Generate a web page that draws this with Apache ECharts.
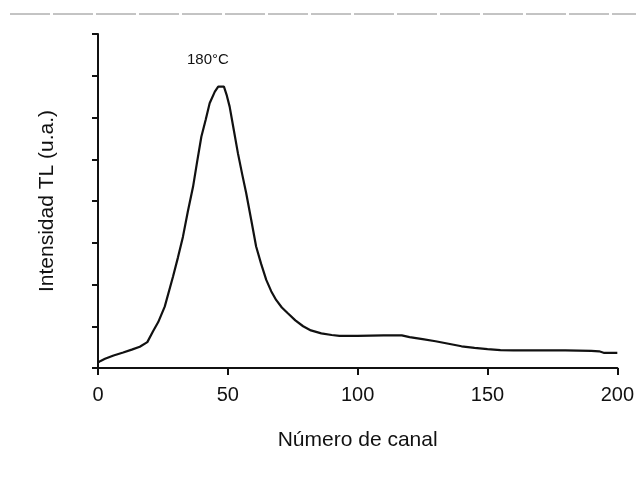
<!DOCTYPE html>
<html>
<head>
<meta charset="utf-8">
<script src="https://cdn.jsdelivr.net/npm/echarts@6/dist/echarts.min.js"></script>
<style>
html,body{margin:0;padding:0;background:#fff;}
#chart{width:637px;height:484px;}
</style>
</head>
<body>
<div id="chart"></div>
<script>
var xTicks = [0, 50, 100, 150, 200];
var channels = [0, 1, 2.7, 6, 9.7, 13, 16.1, 19, 21.2, 23.2, 25.7, 28.9, 30.8, 32.7, 34.6, 36.6, 38.2, 39.8, 41.5, 43, 45, 46.3, 48.5, 49.5, 50.7, 52.3, 53.9, 55.5, 57.1, 59, 60.9, 62.8, 64.8, 66.7, 68.6, 70.8, 73.1, 76, 79, 82, 86, 90, 93, 100, 110, 117, 120, 125, 130, 135, 140, 145, 150, 155, 160, 170, 180, 190, 193, 195, 200];
var intensity = [0.13, 0.17, 0.22, 0.3, 0.37, 0.44, 0.51, 0.62, 0.88, 1.1, 1.47, 2.19, 2.65, 3.14, 3.75, 4.34, 4.95, 5.54, 5.95, 6.34, 6.62, 6.74, 6.74, 6.55, 6.26, 5.7, 5.14, 4.65, 4.18, 3.55, 2.91, 2.5, 2.11, 1.84, 1.63, 1.45, 1.31, 1.14, 1.0, 0.9, 0.83, 0.79, 0.77, 0.77, 0.78, 0.78, 0.74, 0.69, 0.64, 0.58, 0.52, 0.48, 0.45, 0.43, 0.42, 0.42, 0.42, 0.41, 0.40, 0.36, 0.36];
var peakLabel = '180°C';
var xName = 'Número de canal';
var yName = 'Intensidad TL (u.a.)';

var data = channels.map(function (c, i) { return [c, intensity[i]]; });
var font = '"Liberation Sans", Arial, sans-serif';
var chart = echarts.init(document.getElementById('chart'), null, {renderer: 'canvas'});
chart.setOption({
  backgroundColor: '#fff',
  animation: false,
  grid: {left: 98, right: 17, top: 34, bottom: 116},
  xAxis: {
    type: 'value', min: 0, max: 200, interval: 50,
    name: xName, nameLocation: 'middle', nameGap: 62,
    nameTextStyle: {fontFamily: font, fontSize: 21, color: '#111'},
    axisLine: {lineStyle: {color: '#111', width: 2}},
    axisTick: {show: true, length: 7, lineStyle: {color: '#111', width: 2}},
    axisLabel: {fontFamily: font, fontSize: 20, color: '#111', margin: 17,
      formatter: function (v) { return xTicks.indexOf(v) >= 0 ? String(v) : ''; }},
    splitLine: {show: false}
  },
  yAxis: {
    type: 'value', min: 0, max: 8, interval: 1,
    name: yName, nameLocation: 'middle', nameGap: 40,
    nameTextStyle: {fontFamily: font, fontSize: 21, color: '#111'},
    axisLine: {show: true, lineStyle: {color: '#111', width: 2}},
    axisTick: {show: true, length: 6, lineStyle: {color: '#111', width: 2}},
    axisLabel: {show: false},
    splitLine: {show: false}
  },
  series: [{
    type: 'line',
    data: data,
    showSymbol: false,
    symbol: 'none',
    lineStyle: {color: '#111', width: 2.2}
  }],
  graphic: [
    {type: 'text', left: 187, top: 52, style: {text: peakLabel, font: '15px ' + font, fill: '#111'}},
    {type: 'line', shape: {x1: 10, y1: 14, x2: 636, y2: 14}, style: {stroke: '#888', lineWidth: 1, lineDash: [40, 3]}}
  ]
});
</script>
</body>
</html>
